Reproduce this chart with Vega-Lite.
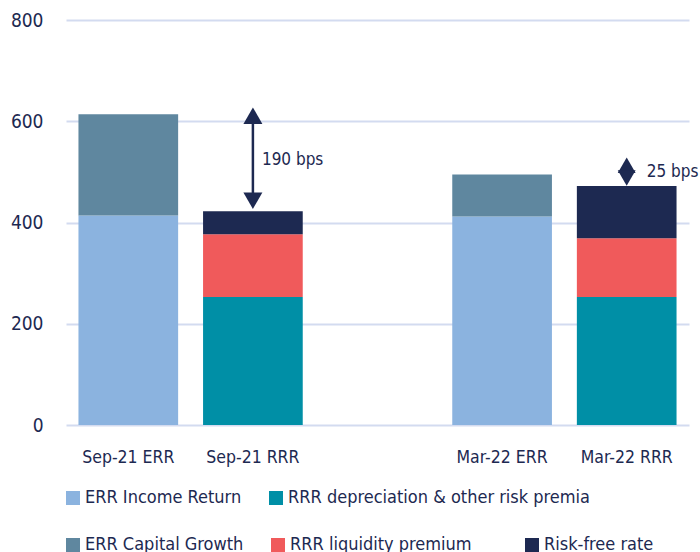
{
  "$schema": "https://vega.github.io/schema/vega-lite/v6.json",
  "width": 623,
  "height": 405,
  "autosize": {"type": "none"},
  "padding": {"left": 66, "top": 20, "right": 11, "bottom": 127},
  "background": "white",
  "config": {
    "view": {"stroke": null},
    "font": "DejaVu Sans Condensed, Roboto",
    "text": {"font": "DejaVu Sans Condensed, Roboto"},
    "legend": {
      "orient": "none",
      "direction": "horizontal",
      "symbolType": "square",
      "symbolSize": 196,
      "symbolStrokeWidth": 0,
      "symbolOpacity": 1,
      "labelFontSize": 18,
      "labelColor": "#1d2951",
      "labelLimit": 500,
      "labelOffset": 3,
      "columnPadding": 25,
      "title": null
    }
  },
  "datasets": {
    "bars": [
      {"cat": "Sep-21 ERR", "series": "ERR Income Return", "value": 414, "ord": 1},
      {"cat": "Sep-21 ERR", "series": "ERR Capital Growth", "value": 200, "ord": 2},
      {"cat": "Sep-21 RRR", "series": "RRR depreciation & other risk premia", "value": 253, "ord": 1},
      {"cat": "Sep-21 RRR", "series": "RRR liquidity premium", "value": 124, "ord": 2},
      {"cat": "Sep-21 RRR", "series": "Risk-free rate", "value": 45, "ord": 3},
      {"cat": "Mar-22 ERR", "series": "ERR Income Return", "value": 412, "ord": 1},
      {"cat": "Mar-22 ERR", "series": "ERR Capital Growth", "value": 83, "ord": 2},
      {"cat": "Mar-22 RRR", "series": "RRR depreciation & other risk premia", "value": 253, "ord": 1},
      {"cat": "Mar-22 RRR", "series": "RRR liquidity premium", "value": 116, "ord": 2},
      {"cat": "Mar-22 RRR", "series": "Risk-free rate", "value": 103, "ord": 3}
    ],
    "stems": [
      {"cat": "Sep-21 RRR", "lo": 443, "hi": 611}
    ],
    "heads": [
      {"cat": "Sep-21 RRR", "v": 611, "dir": "up", "sz": 289},
      {"cat": "Sep-21 RRR", "v": 443, "dir": "down", "sz": 289},
      {"cat": "Mar-22 RRR", "v": 513, "dir": "up", "sz": 256},
      {"cat": "Mar-22 RRR", "v": 488, "dir": "down", "sz": 256}
    ],
    "note1": [{"cat": "Sep-21 RRR", "v": 523, "label": "190 bps"}],
    "note2": [{"cat": "Mar-22 RRR", "v": 500, "label": "25 bps"}]
  },
  "encoding": {
    "x": {
      "field": "cat",
      "type": "nominal",
      "sort": null,
      "scale": {"domain": ["Sep-21 ERR", "Sep-21 RRR", " ", "Mar-22 ERR", "Mar-22 RRR"], "paddingInner": 0.2, "paddingOuter": 0.1},
      "axis": {
        "title": null,
        "domain": false,
        "ticks": false,
        "labelAngle": 0,
        "labelFontSize": 17.5,
        "labelColor": "#1d2951",
        "labelPadding": 23
      }
    }
  },
  "layer": [
    {
      "data": {"name": "bars"},
      "transform": [
        {"stack": "value", "groupby": ["cat"], "sort": [{"field": "ord", "order": "ascending"}], "as": ["v0", "v1"]}
      ],
      "layer": [
        {
          "transform": [{"filter": "datum.ord == 1"}],
          "mark": {"type": "bar"},
          "encoding": {
            "y": {
              "field": "v0",
              "type": "quantitative",
              "scale": {"domain": [0, 800], "nice": false},
              "axis": {
                "title": null,
                "values": [0, 200, 400, 600, 800],
                "domain": false,
                "ticks": false,
                "grid": true,
                "gridColor": "#d3dbf0",
                "gridWidth": 2,
                "labelFontSize": 19,
                "labelColor": "#1d2951",
                "labelPadding": 23
              }
            },
            "y2": {"field": "v1"},
            "color": {
              "field": "series",
              "type": "nominal",
              "scale": {
                "domain": ["ERR Income Return", "RRR depreciation & other risk premia"],
                "range": ["#8bb3df", "#008fa6"]
              },
              "legend": {"legendX": -2, "legendY": 469}
            }
          }
        },
        {
          "transform": [{"filter": "datum.ord > 1"}],
          "mark": {"type": "bar"},
          "encoding": {
            "y": {"field": "v0", "type": "quantitative"},
            "y2": {"field": "v1"},
            "fill": {
              "field": "series",
              "type": "nominal",
              "scale": {
                "domain": ["ERR Capital Growth", "RRR liquidity premium", "Risk-free rate"],
                "range": ["#5f879f", "#f05a5b", "#1d2951"]
              },
              "legend": {
                "legendX": -2,
                "legendY": 516,
                "labelExpr": "datum.label == 'RRR liquidity premium' ? datum.label + '\u00a0\u00a0\u00a0\u00a0\u00a0\u200b' : datum.label"
              }
            }
          }
        }
      ]
    },
    {
      "data": {"name": "stems"},
      "mark": {"type": "rule", "color": "#1d2951", "strokeWidth": 2.5},
      "encoding": {
        "y": {"field": "lo", "type": "quantitative"},
        "y2": {"field": "hi"}
      }
    },
    {
      "data": {"name": "heads"},
      "mark": {"type": "point", "filled": true, "opacity": 1, "color": "#1d2951"},
      "encoding": {
        "y": {"field": "v", "type": "quantitative"},
        "shape": {
          "field": "dir",
          "type": "nominal",
          "scale": {"domain": ["up", "down"], "range": ["triangle-up", "triangle-down"]},
          "legend": null
        },
        "size": {"field": "sz", "type": "quantitative", "scale": {"type": "identity"}, "legend": null}
      }
    },
    {
      "data": {"name": "note1"},
      "mark": {"type": "text", "align": "left", "baseline": "middle", "fontSize": 17, "color": "#1d2951", "dx": 9},
      "encoding": {
        "y": {"field": "v", "type": "quantitative"},
        "text": {"field": "label"}
      }
    },
    {
      "data": {"name": "note2"},
      "mark": {"type": "text", "align": "left", "baseline": "middle", "fontSize": 17, "color": "#1d2951", "dx": 20},
      "encoding": {
        "y": {"field": "v", "type": "quantitative"},
        "text": {"field": "label"}
      }
    }
  ]
}
